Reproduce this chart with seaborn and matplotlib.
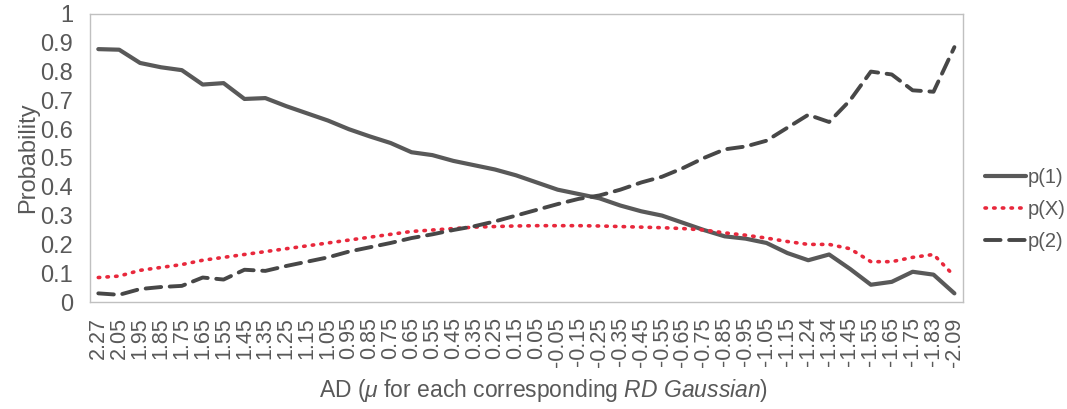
import matplotlib
matplotlib.use("Agg")
import seaborn as sns
from matplotlib import pyplot as plt
from pandas import DataFrame

ad_labels = ["2.27", "2.05", "1.95", "1.85", "1.75", "1.65", "1.55", "1.45", "1.35",
             "1.25", "1.15", "1.05", "0.95", "0.85", "0.75", "0.65", "0.55", "0.45",
             "0.35", "0.25", "0.15", "0.05", "-0.05", "-0.15", "-0.25", "-0.35",
             "-0.45", "-0.55", "-0.65", "-0.75", "-0.85", "-0.95", "-1.05", "-1.15",
             "-1.24", "-1.34", "-1.45", "-1.55", "-1.65", "-1.75", "-1.83", "-2.09"]

p1 = [0.878, 0.876, 0.83, 0.815, 0.805, 0.755, 0.76, 0.705, 0.708, 0.68, 0.655,
      0.63, 0.60, 0.575, 0.552, 0.52, 0.51, 0.49, 0.475, 0.46, 0.44, 0.415, 0.39,
      0.375, 0.36, 0.335, 0.315, 0.30, 0.275, 0.25, 0.228, 0.22, 0.205, 0.17,
      0.145, 0.165, 0.115, 0.06, 0.07, 0.105, 0.095, 0.03]
pX = [0.085, 0.09, 0.11, 0.12, 0.13, 0.145, 0.155, 0.165, 0.175, 0.185, 0.195,
      0.205, 0.215, 0.225, 0.235, 0.245, 0.25, 0.255, 0.26, 0.262, 0.264, 0.265,
      0.265, 0.265, 0.264, 0.262, 0.26, 0.258, 0.255, 0.25, 0.24, 0.232, 0.222,
      0.21, 0.20, 0.20, 0.185, 0.14, 0.14, 0.155, 0.165, 0.09]
p2 = [0.03, 0.025, 0.045, 0.052, 0.056, 0.085, 0.078, 0.112, 0.108, 0.125, 0.14,
      0.155, 0.175, 0.19, 0.205, 0.222, 0.235, 0.25, 0.263, 0.28, 0.30, 0.32, 0.34,
      0.358, 0.37, 0.39, 0.415, 0.435, 0.465, 0.50, 0.53, 0.54, 0.56, 0.605, 0.65,
      0.625, 0.70, 0.80, 0.79, 0.735, 0.73, 0.885]

series_names = ["p(1)", "p(X)", "p(2)"]

sns.set_theme(style="white")
plt.rcParams['font.family'] = ['Liberation Sans', 'DejaVu Sans']
plt.rcParams['mathtext.fontset'] = 'custom'
plt.rcParams['mathtext.it'] = 'Liberation Sans:italic'
plt.rcParams['mathtext.rm'] = 'Liberation Sans'

gray = "#595959"
fig = plt.figure(figsize=(10.67, 4.09), dpi=100)
ax = fig.add_axes([0.0843, 0.2616, 0.818, 0.7042])

x = list(range(len(ad_labels)))
styles = [("-", gray, series_names[0], p1, 3.0),
          ((0, (0.4, 2.0)), "#e8283c", series_names[1], pX, 2.6),
          ((0, (4.0, 2.2)), "#474747", series_names[2], p2, 2.8)]
for ls, col, name, vals, lw in styles:
    df = DataFrame({'x': x, 'y': vals})
    sns.lineplot(x='x', y='y', data=df, ax=ax, label=name, color=col,
                 linestyle=ls, linewidth=lw, solid_capstyle='round',
                 dash_capstyle='round')

ax.set_xlim(-0.4, len(ad_labels) - 0.6)
ax.set_ylim(0, 1)
ax.set_yticks([i / 10 for i in range(11)])
ax.set_yticklabels(["0"] + [f"0.{i}" for i in range(1, 10)] + ["1"])
ax.set_xticks(x)
ax.set_xticklabels(ad_labels, rotation=90)
ax.tick_params(axis='y', colors=gray, labelsize=17, length=0, pad=12)
ax.tick_params(axis='x', colors=gray, labelsize=15.5, length=0, pad=11)
for s in ax.spines.values():
    s.set_color("#c0c0c0")
    s.set_linewidth(1)

ax.set_ylabel("Probability", color=gray, fontsize=17, labelpad=1)
ax.set_xlabel(r"AD ($\mathit{\mu}$ for each corresponding $\mathit{RD\ Gaussian}$)",
              color=gray, fontsize=16.5, labelpad=4)
ax.xaxis.set_label_coords(0.52, -0.262)
ax.xaxis.label.set_va('top')

leg = ax.legend(loc='center left', bbox_to_anchor=(1.005, 0.32), frameon=False,
                fontsize=14.5, handlelength=2.0, handletextpad=0.1,
                labelspacing=0.65)
for t in leg.get_texts():
    t.set_color(gray)

fig.savefig("out.png", dpi=100)
plt.close()
